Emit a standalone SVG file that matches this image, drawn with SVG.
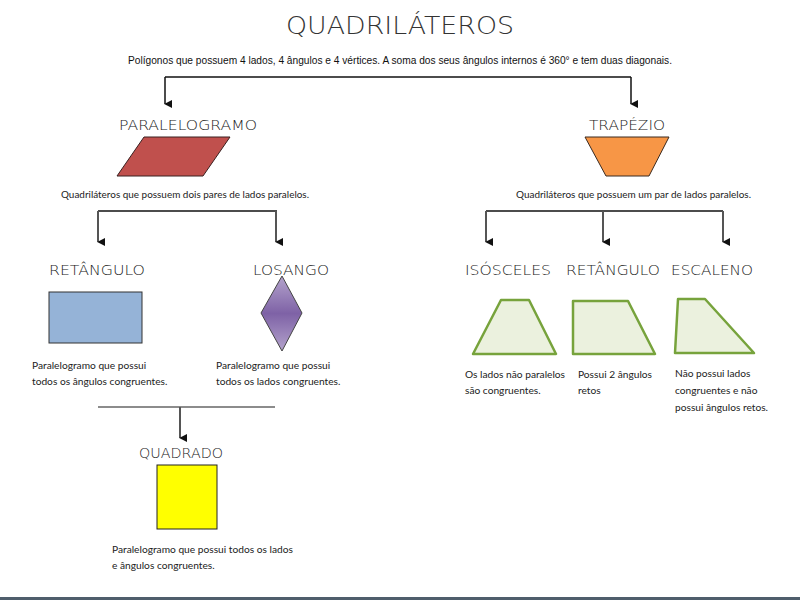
<svg xmlns="http://www.w3.org/2000/svg" width="800" height="600" viewBox="0 0 800 600">
<style>
.title{font-family:"DejaVu Sans","Liberation Sans",sans-serif;font-weight:200;fill:#333;font-size:25px}
.lbl{font-family:"DejaVu Sans","Liberation Sans",sans-serif;font-weight:200;fill:#222;font-size:14px}
.sub{font-family:"Liberation Sans",Arial,sans-serif;fill:#111;font-size:11.5px}
.desc{font-family:Lato,"Open Sans",sans-serif;fill:#222;font-size:10.2px}
.main{stroke:#111;stroke-width:1.5;fill:none}
.drop{stroke:#555;stroke-width:2;fill:none}
.bar{stroke:#666;stroke-width:1.5;fill:none}
.green{fill:#ebf1de;stroke:#77a33c;stroke-width:2.5;stroke-linejoin:round}
</style>
<defs>
<marker id="ah" viewBox="0 0 10 10" refX="5" refY="9" markerWidth="8" markerHeight="8" markerUnits="userSpaceOnUse" orient="auto-start-reverse">
<path d="M0,0 L10,0 L5,10 Z" fill="#111"/>
</marker>
<linearGradient id="purp" x1="0" y1="0" x2="0" y2="1">
<stop offset="0" stop-color="#b4a3cc"/>
<stop offset="0.5" stop-color="#7e62a6"/>
<stop offset="1" stop-color="#b4a3cc"/>
</linearGradient>
</defs>
<rect width="800" height="600" fill="#fff"/>
<g id="header">
<text class="title" x="400" y="34" text-anchor="middle" textLength="228" lengthAdjust="spacingAndGlyphs">QUADRILÁTEROS</text>
<text class="sub" x="128" y="64" textLength="544" lengthAdjust="spacingAndGlyphs">Polígonos que possuem 4 lados, 4 ângulos e 4 vértices. A soma dos seus ângulos internos é 360° e tem duas diagonais.</text>
</g>
<g id="connectors">
<path class="main" d="M165,77 H631"/>
<path class="main" d="M165,77 V104" marker-end="url(#ah)"/>
<path class="main" d="M631,77 V104" marker-end="url(#ah)"/>
<path class="main" d="M98,211 H277"/>
<path class="drop" d="M98,211 V242" marker-end="url(#ah)"/>
<path class="drop" d="M276,211 V242" marker-end="url(#ah)"/>
<path class="main" d="M486,211 H723"/>
<path class="drop" d="M486,211 V242" marker-end="url(#ah)"/>
<path class="drop" d="M603,211 V242" marker-end="url(#ah)"/>
<path class="drop" d="M723,211 V242" marker-end="url(#ah)"/>
<path class="bar" d="M98,407 H275"/>
<path class="drop" d="M180,407 V438" marker-end="url(#ah)"/>
</g>
<g id="paralelogramo">
<text class="lbl" x="188" y="130" text-anchor="middle" textLength="138" lengthAdjust="spacingAndGlyphs">PARALELOGRAMO</text>
<polygon points="144,137 230,137 203,176 117,176" fill="#c0504d" stroke="#3a2020" stroke-width="1"/>
<text class="desc" x="61" y="198" textLength="248" lengthAdjust="spacingAndGlyphs">Quadriláteros que possuem dois pares de lados paralelos.</text>
</g>
<g id="trapezio">
<text class="lbl" x="627" y="130" text-anchor="middle" textLength="76" lengthAdjust="spacingAndGlyphs">TRAPÉZIO</text>
<polygon points="585,137 669,137 649,176 606,176" fill="#f79646" stroke="#3a2a20" stroke-width="1"/>
<text class="desc" x="516" y="198" textLength="235" lengthAdjust="spacingAndGlyphs">Quadriláteros que possuem um par de lados paralelos.</text>
</g>
<g id="retangulo">
<text class="lbl" x="97" y="275" text-anchor="middle" textLength="96" lengthAdjust="spacingAndGlyphs">RETÂNGULO</text>
<rect x="49" y="292" width="93" height="51" fill="#95b3d7" stroke="#333" stroke-width="1"/>
<text class="desc" x="32" y="369">Paralelogramo que possui</text>
<text class="desc" x="32" y="385">todos os ângulos congruentes.</text>
</g>
<g id="losango">
<text class="lbl" x="291" y="275" text-anchor="middle" textLength="76" lengthAdjust="spacingAndGlyphs">LOSANGO</text>
<polygon points="282,276 302,313 282,351 261,313" fill="url(#purp)" stroke="#444" stroke-width="1"/>
<text class="desc" x="216" y="369">Paralelogramo que possui</text>
<text class="desc" x="216" y="385">todos os lados congruentes.</text>
</g>
<g id="quadrado">
<text class="lbl" x="181" y="458" text-anchor="middle" textLength="84" lengthAdjust="spacingAndGlyphs">QUADRADO</text>
<rect x="157" y="465" width="60" height="64" fill="#ffff00" stroke="#222" stroke-width="1"/>
<text class="desc" x="112" y="553">Paralelogramo que possui todos os lados</text>
<text class="desc" x="112" y="569">e ângulos congruentes.</text>
</g>
<g id="isosceles">
<text class="lbl" x="508" y="275" text-anchor="middle" textLength="86" lengthAdjust="spacingAndGlyphs">ISÓSCELES</text>
<polygon class="green" points="501,300 529,300 556,354 473,354"/>
<text class="desc" x="465" y="378">Os lados não paralelos</text>
<text class="desc" x="465" y="394">são congruentes.</text>
</g>
<g id="trap-retangulo">
<text class="lbl" x="613" y="275" text-anchor="middle" textLength="94" lengthAdjust="spacingAndGlyphs">RETÂNGULO</text>
<polygon class="green" points="573,301 628,301 655,354 573,354"/>
<text class="desc" x="578" y="378">Possui 2 ângulos</text>
<text class="desc" x="578" y="394">retos</text>
</g>
<g id="escaleno">
<text class="lbl" x="712" y="275" text-anchor="middle" textLength="82" lengthAdjust="spacingAndGlyphs">ESCALENO</text>
<polygon class="green" points="678,299 705,299 754,353 675,353"/>
<text class="desc" x="675" y="377">Não possui lados</text>
<text class="desc" x="675" y="394">congruentes e não</text>
<text class="desc" x="675" y="411">possui ângulos retos.</text>
</g>
<rect x="0" y="597" width="800" height="3" fill="#4f5e6c"/>
</svg>
